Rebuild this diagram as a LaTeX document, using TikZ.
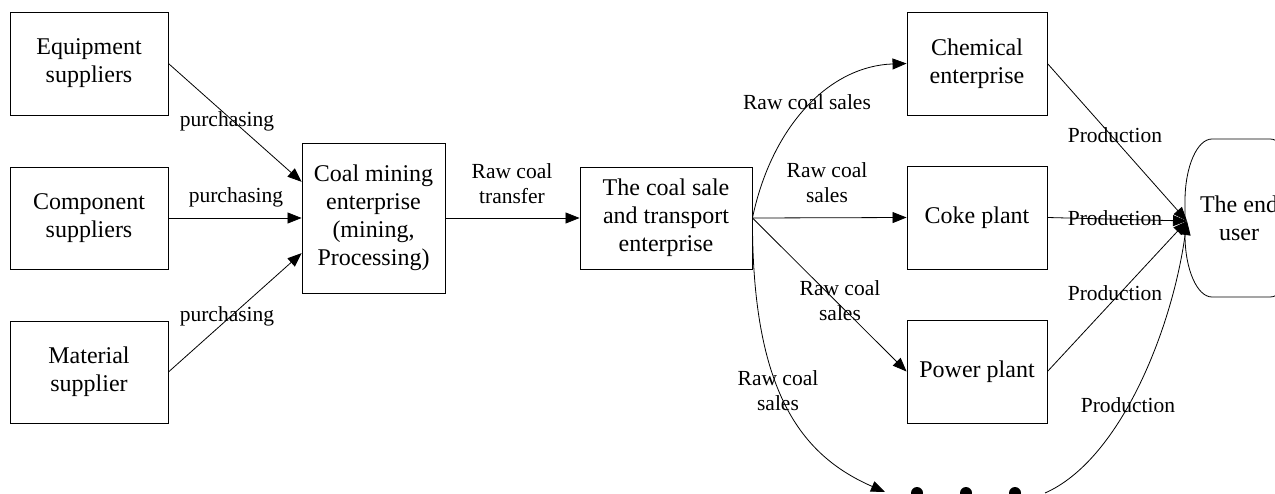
\documentclass[tikz,border=0pt]{standalone}
\usepackage{fontspec}
\setmainfont{Liberation Serif}
\usetikzlibrary{arrows.meta,calc}
\tikzset{
  box/.style={draw, line width=0.9pt, rectangle, inner sep=0pt, align=center,
    font=\fontsize{24}{28}\selectfont},
  lab/.style={inner sep=0pt, align=center, font=\fontsize{21.5}{25}\selectfont},
  conn/.style={line width=0.8pt, -{Triangle[length=14pt,width=11pt]}},
  plain/.style={line width=0.8pt},
  dot/.style={circle, fill=black, inner sep=0pt, minimum size=12pt}
}
\begin{document}
\begin{tikzpicture}[x=1pt,y=-1pt]
\useasboundingbox (0,0) rectangle (1275,493);
\clip (0,0) rectangle (1275,493);
% boxes
\node[box, minimum width=158pt, minimum height=103pt] (eq) at (89,63.5) {Equipment\\suppliers};
\node[box, minimum width=158pt, minimum height=102pt] (comp) at (89,218) {Component\\suppliers};
\node[box, minimum width=158pt, minimum height=102pt] (mat) at (89,372) {Material\\supplier};
\node[box, minimum width=143pt, minimum height=150pt] (mine) at (373.5,218) {Coal mining\\enterprise\\(mining,\\Processing)};
\node[box, minimum width=172pt, minimum height=102pt] (sale) at (666,218) {The coal sale\\and transport\\enterprise};
\node[box, minimum width=140pt, minimum height=103pt] (chem) at (977,63.5) {Chemical\\enterprise};
\node[box, minimum width=140pt, minimum height=103pt] (coke) at (977,217.5) {Coke plant};
\node[box, minimum width=140pt, minimum height=103pt] (power) at (977,371.5) {Power plant};
% end user shape
\draw[line width=0.8pt] (1212,139) arc[start angle=270, end angle=180, x radius=27, y radius=62]
  -- (1185,235) arc[start angle=180, end angle=90, x radius=27, y radius=62]
  -- (1270,297) arc[start angle=90, end angle=0, x radius=27, y radius=62]
  -- (1297,201) arc[start angle=0, end angle=-90, x radius=27, y radius=62] -- cycle;
\node[box, draw=none] (user) at (1239,218) {The end\\user};
\coordinate (userin) at (1187,221);
% dots
\node[dot] (d1) at (917,493) {};
\node[dot] (d2) at (966,493) {};
\node[dot] (d3) at (1015,493) {};
\coordinate (dotsin) at (885,492);
\coordinate (dotsout) at (1045,493);
% connectors left
\draw[conn] (eq.east) -- ($(mine.north west)!0.26!(mine.south west)$);
\draw[conn] (comp.east) -- (mine.west);
\draw[conn] (mat.east) -- ($(mine.north west)!0.733!(mine.south west)$);
\draw[conn] (mine.east) -- (sale.west);
% from sale
\draw[conn] (sale.east) .. controls (772,125) and (830,66) .. (chem.west);
\draw[conn] (sale.east) -- (coke.west);
\draw[conn] (sale.east) -- (power.west);
\draw[conn] (sale.east) .. controls (752,390) and (800,455) .. (dotsin);
% to user
\draw[conn] (chem.east) -- (userin);
\draw[conn] (coke.east) -- (userin);
\draw[conn] (power.east) -- (userin);
\draw[conn] (dotsout) .. controls (1120,460) and (1172,330) .. (userin);
% labels
\node[lab] at (227,121) {purchasing};
\node[lab] at (236,197) {purchasing};
\node[lab] at (227,316) {purchasing};
\node[lab] at (512,184) {Raw coal\\transfer};
\node[lab] at (807,102) {Raw coal sales};
\node[lab] at (827,183) {Raw coal\\sales};
\node[lab] at (840,301) {Raw coal\\sales};
\node[lab] at (778,391) {Raw coal\\sales};
\node[lab] at (1115,135) {Production};
\node[lab] at (1115,218) {Production};
\node[lab] at (1115,293) {Production};
\node[lab] at (1128,405) {Production};
\end{tikzpicture}
\end{document}
